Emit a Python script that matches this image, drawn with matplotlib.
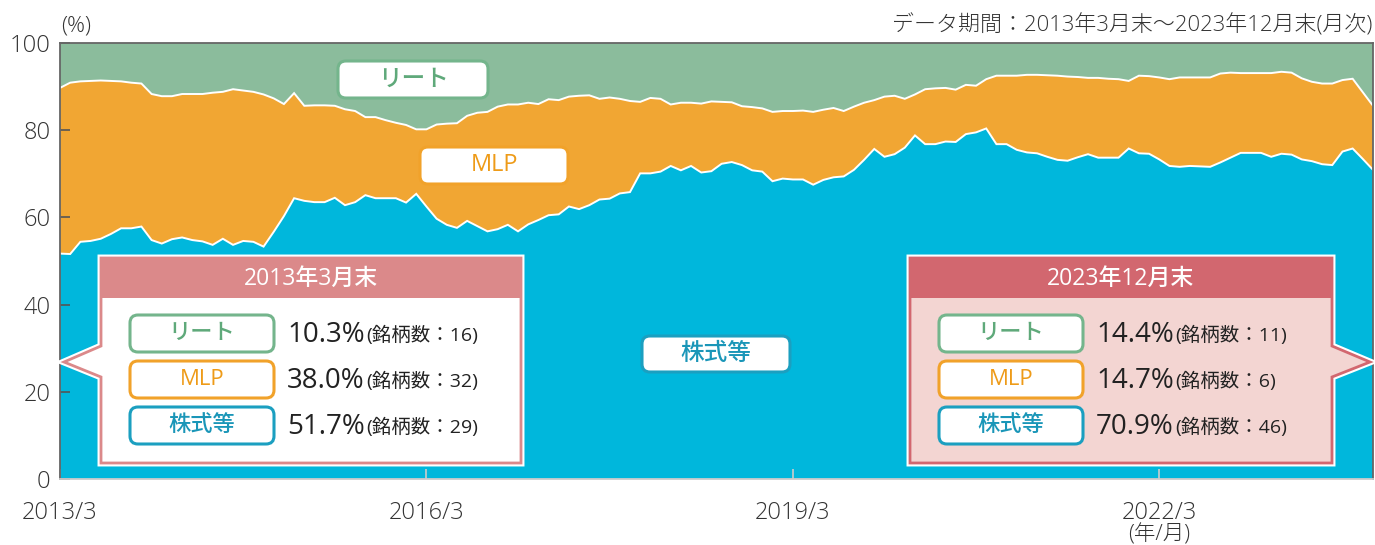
import numpy as np
import matplotlib
matplotlib.use('Agg')
import matplotlib.pyplot as plt
from matplotlib.patches import FancyBboxPatch, Polygon, Rectangle
from matplotlib.transforms import Affine2D

plt.rcParams['font.family'] = ['Open Sans', 'Noto Sans CJK JP', 'DejaVu Sans']

W, H = 1375, 545

# ---- data (monthly, 2013/3 .. 2023/12), % of portfolio ----
stock = np.array([
    51.7, 51.6, 54.4, 54.6, 55.1, 56.2, 57.5, 57.5, 57.9, 54.8,
    54.0, 55.0, 55.4, 54.8, 54.5, 53.7, 55.1, 53.7, 54.6, 54.4,
    53.3, 56.7, 60.3, 64.4, 63.8, 63.5, 63.5, 64.5, 62.8, 63.5,
    65.1, 64.4, 64.4, 64.4, 63.4, 65.4, 62.5, 59.7, 58.3, 57.6,
    59.2, 58.0, 56.8, 57.3, 58.3, 56.8, 58.4, 59.4, 60.5, 60.7,
    62.5, 61.9, 62.8, 64.1, 64.3, 65.5, 65.8, 70.1, 70.1, 70.5,
    71.8, 70.8, 71.8, 70.3, 70.6, 72.3, 72.7, 72.0, 70.8, 70.5,
    68.3, 68.9, 68.7, 68.7, 67.5, 68.6, 69.2, 69.4, 70.9, 73.2,
    75.7, 73.9, 74.5, 76.0, 78.8, 76.8, 76.8, 77.4, 77.3, 79.1,
    79.5, 80.4, 76.8, 76.8, 75.5, 74.9, 74.7, 73.9, 73.2, 73.0,
    73.8, 74.5, 73.7, 73.7, 73.7, 75.8, 74.7, 74.6, 73.3, 71.8,
    71.6, 71.8, 71.7, 71.6, 72.6, 73.7, 74.8, 74.8, 74.8, 73.9,
    74.6, 74.4, 73.3, 72.9, 72.2, 72.0, 75.1, 75.8, 73.4, 70.9])
mlp = np.array([
    38.0, 39.3, 36.8, 36.7, 36.3, 35.1, 33.7, 33.4, 32.8, 33.5,
    33.8, 32.8, 32.9, 33.5, 33.8, 34.9, 33.7, 35.7, 34.5, 34.4,
    34.9, 30.6, 25.7, 24.1, 21.8, 22.2, 22.2, 21.1, 22.0, 20.9,
    17.9, 18.6, 17.9, 17.3, 17.8, 14.8, 17.7, 21.6, 23.2, 24.0,
    24.1, 26.0, 27.4, 28.1, 27.6, 29.1, 27.9, 26.6, 26.6, 26.2,
    25.2, 26.0, 25.2, 23.1, 23.2, 21.7, 20.9, 16.4, 17.3, 16.7,
    14.1, 15.5, 14.5, 15.8, 16.0, 14.2, 13.7, 13.5, 14.5, 14.5,
    15.9, 15.5, 15.7, 15.8, 16.7, 16.1, 15.9, 15.0, 14.5, 13.1,
    11.2, 13.8, 13.4, 11.2, 9.4, 12.6, 12.8, 12.3, 12.0, 11.3,
    10.7, 11.3, 15.7, 15.7, 17.0, 17.8, 18.0, 18.7, 19.3, 19.3,
    18.4, 17.5, 18.3, 18.1, 18.0, 15.5, 17.8, 17.8, 18.8, 19.9,
    20.5, 20.3, 20.4, 20.5, 20.4, 19.5, 18.3, 18.3, 18.3, 19.2,
    18.8, 18.8, 18.6, 18.2, 18.5, 18.7, 16.4, 16.0, 15.3, 14.7])
reit = 100.0 - stock - mlp

series_names = ['株式等', 'MLP', 'リート']
tick_months = [0, 36, 72, 108]
tick_labels = ['2013/3', '2016/3', '2019/3', '2022/3']
yticks = [0, 20, 40, 60, 80, 100]

start_label = '2013年3月末'
end_label = '2023年12月末'
start_vals = ['10.3%', '38.0%', '51.7%']      # リート, MLP, 株式等
start_counts = [16, 32, 29]
end_vals = ['14.4%', '14.7%', '70.9%']
end_counts = [11, 6, 46]

C_STOCK = '#00B7DC'
C_MLP = '#F1A633'
C_REIT = '#8BBC9C'
TXT = '#333333'

label_edge = {'リート': '#74B58C', 'MLP': '#F1A22A', '株式等': '#1B9FC0'}
label_text = {'リート': '#5FA97A', 'MLP': '#EE9B18', '株式等': '#1A96B8'}

fig = plt.figure(figsize=(W / 100, H / 100), dpi=100)
ax = fig.add_axes([60 / W, 1 - 479 / H, 1313 / W, 436 / H])
x = np.arange(len(stock))

ax.stackplot(x, stock, mlp, reit, colors=[C_STOCK, C_MLP, C_REIT],
             linewidth=0, antialiased=True)
ax.plot(x, stock, color='white', lw=1.4, solid_joinstyle='miter')
ax.plot(x, stock + mlp, color='white', lw=1.4, solid_joinstyle='miter')

ax.set_xlim(0, len(stock) - 1)
ax.set_ylim(0, 100)
ax.set_xticks(tick_months)
ax.set_xticklabels(tick_labels)
ax.set_yticks(yticks)
ax.tick_params(axis='y', direction='in', length=7, width=1.2, color='#555555',
               labelsize=17, labelcolor=TXT, pad=7)
ax.tick_params(axis='x', direction='in', length=7, width=1.2, color='#cccccc',
               labelsize=17, labelcolor=TXT, pad=16)
for lab in ax.get_xticklabels() + ax.get_yticklabels():
    lab.set_fontweight('light')
for s in ax.spines.values():
    s.set_color('#666666')
    s.set_linewidth(1.3)
ax.spines['bottom'].set_color('#cccccc')

# pixel-coordinate transform (origin top-left)
PX = Affine2D().scale(1 / W, -1 / H).translate(0, 1) + fig.transFigure


def ftext(xp, yp, s, **kw):
    return fig.text(xp / W, 1 - yp / H, s, **kw)


ftext(76, 26, '(%)', ha='center', va='center', fontsize=16, color=TXT,
      weight='light')
ftext(1372, 25, 'データ期間：2013年3月末～2023年12月末(月次)', ha='right',
      va='center', fontsize=15.8, color=TXT, weight='light')
ftext(1159, 535, '(年/月)', ha='center', va='center', fontsize=15.5,
      color=TXT, weight='light')


def label_box(x0, y0, x1, y1, name, fs=17, lw=2.2):
    p = FancyBboxPatch((x0, y0), x1 - x0, y1 - y0,
                       boxstyle='round,pad=0,rounding_size=8',
                       transform=PX, facecolor='white',
                       edgecolor=label_edge[name], lw=lw, zorder=5)
    fig.add_artist(p)
    ftext((x0 + x1) / 2, (y0 + y1) / 2, name, ha='center', va='center',
          fontsize=fs, color=label_text[name], zorder=6, weight='medium')


label_box(338, 61, 488, 98, 'リート')
label_box(420, 147, 568, 184, 'MLP')
label_box(642, 336, 790, 372, '株式等')


def callout(x0, x1, tip_x, header_c, body_c, title, vals, counts, side):
    y0, y1, yh = 258, 463, 298
    ny0, ny1, ny = 346, 377, 362
    if side == 'left':
        pts = [(x0, y0), (x1, y0), (x1, y1), (x0, y1), (x0, ny1),
               (tip_x, ny), (x0, ny0)]
    else:
        pts = [(x0, y0), (x1, y0), (x1, ny0), (tip_x, ny), (x1, ny1),
               (x1, y1), (x0, y1)]
    fig.add_artist(Polygon(pts, closed=True, transform=PX, facecolor='none',
                           edgecolor='white', lw=5, joinstyle='miter',
                           zorder=3))
    fig.add_artist(Polygon(pts, closed=True, transform=PX, facecolor=body_c,
                           edgecolor='none', zorder=4))
    fig.add_artist(Rectangle((x0, y0), x1 - x0, yh - y0, transform=PX,
                             facecolor=header_c, edgecolor='none', zorder=4))
    fig.add_artist(Polygon(pts, closed=True, transform=PX, facecolor='none',
                           edgecolor=header_c, lw=2, joinstyle='miter',
                           zorder=4.5))
    ftext((x0 + x1) / 2, (y0 + yh) / 2 + 1, title, ha='center', va='center',
          fontsize=16.5, color='white', weight='medium', zorder=6)
    lx0 = x0 + 29
    rows = [(315, 352), (361, 398), (407, 444)]
    names = ['リート', 'MLP', '株式等']
    for (ry0, ry1), nm, v, c in zip(rows, names, vals, counts):
        label_box(lx0, ry0, lx0 + 144, ry1, nm, fs=16, lw=2.2)
        yc = (ry0 + ry1) / 2
        t = ftext(lx0 + 157, yc + 1, v, ha='left', va='center',
                  fontsize=20, color='#222222', zorder=6, weight='medium')
        fig.canvas.draw()
        bb = t.get_window_extent()
        ftext(bb.x1 + 2, yc + 2, f'(銘柄数：{c})', ha='left', va='center',
              fontsize=14, color='#222222', zorder=6)


callout(101, 521, 64, '#DB898A', 'white', start_label, start_vals,
        start_counts, 'left')
callout(910, 1332, 1370, '#D2676F', '#F3D5D2', end_label, end_vals,
        end_counts, 'right')

fig.savefig('out.png', dpi=100)
